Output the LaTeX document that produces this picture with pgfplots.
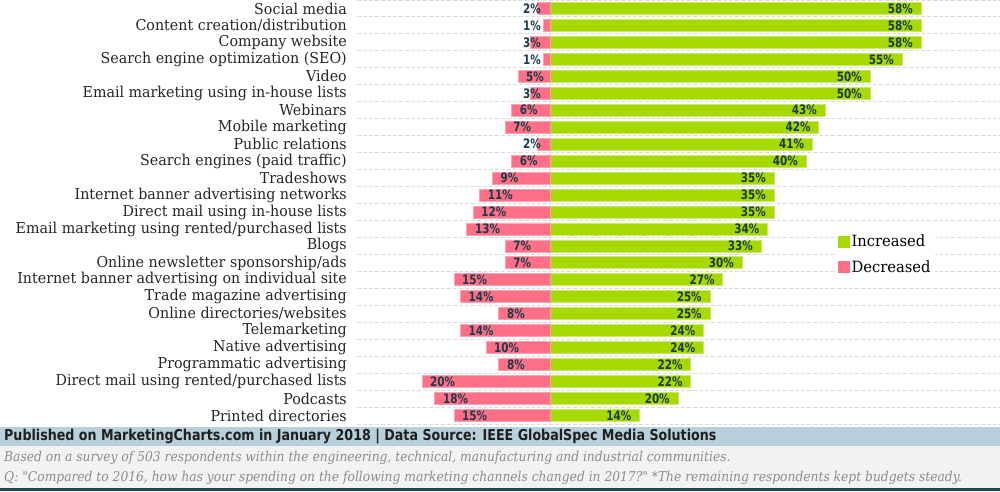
\documentclass[border=0pt]{standalone}
\usepackage{pgfplots}
\pgfplotsset{compat=1.18}
\usepackage{pgfplotstable}
\usepackage{fontspec}
\setmainfont{DejaVu Serif}
\newfontfamily\labfont[FakeStretch=0.95]{DejaVu Serif}
\newfontfamily\numfont[FakeStretch=0.8]{DejaVu Sans}
\newfontfamily\footfont[FakeStretch=0.845]{DejaVu Sans}
\newfontfamily\notefont[FakeStretch=0.91]{DejaVu Serif}

\definecolor{incgreen}{HTML}{A6D900}
\definecolor{incedge}{HTML}{C9EC66}
\definecolor{decpink}{HTML}{FF6F86}
\definecolor{decedge}{HTML}{FFA3B2}
\definecolor{labnavy}{HTML}{1B3A4B}
\definecolor{bandc}{HTML}{B8CFDC}
\definecolor{notec}{HTML}{F2F2F2}
\definecolor{notetext}{HTML}{8C8C8C}
\definecolor{bottomline}{HTML}{1E4652}
\definecolor{gridc}{HTML}{DCDCDC}

% idx increased decreased
\pgfplotstableread{
idx inc dec
0  58 2
1  58 1
2  58 3
3  55 1
4  50 5
5  50 3
6  43 6
7  42 7
8  41 2
9  40 6
10 35 9
11 35 11
12 35 12
13 34 13
14 33 7
15 30 7
16 27 15
17 25 14
18 25 8
19 24 14
20 24 10
21 22 8
22 22 20
23 20 18
24 14 15
}\maintab

% decreased labels placed at the bar's left end
\pgfplotstableread{
idx dec
4  5
6  6
7  7
9  6
10 9
11 11
12 12
13 13
14 7
15 7
16 15
17 14
18 8
19 14
20 10
21 8
22 20
23 18
24 15
}\bigdec

% small decreased labels placed next to the zero line
\pgfplotstableread{
idx dec
0 2
1 1
2 3
3 1
5 3
8 2
}\smalldec

\begin{document}
\begin{tikzpicture}[x=1pt,y=1pt]
\begin{axis}[
  at={(357pt,0pt)}, anchor=north west,
  scale only axis, width=643pt, height=424pt,
  xmin=-30.16, xmax=70.3,
  ymin=-0.5, ymax=24.5, y dir=reverse,
  axis line style={draw=none},
  xtick=\empty,
  extra x ticks={0}, extra x tick labels={},
  extra x tick style={grid=major, major grid style={gray!22, line width=1pt}},
  ytick={0,...,24},
  yticklabels={Social media,Content creation/distribution,Company website,Search engine optimization (SEO),Video,Email marketing using in-house lists,Webinars,Mobile marketing,Public relations,Search engines (paid traffic),Tradeshows,Internet banner advertising networks,Direct mail using in-house lists,Email marketing using rented/purchased lists,Blogs,Online newsletter sponsorship/ads,Internet banner advertising on individual site,Trade magazine advertising,Online directories/websites,Telemarketing,Native advertising,Programmatic advertising,Direct mail using rented/purchased lists,Podcasts,Printed directories},
  minor ytick={-0.5,0.5,...,24.5},
  yminorgrids,
  minor grid style={gridc, dash pattern=on 4pt off 2pt, line width=1pt},
  major tick length=0pt, minor tick length=0pt,
  yticklabel style={font=\labfont\fontsize{15}{17}\selectfont, text=black!85, inner sep=0pt, xshift=-10pt},
  legend style={at={(axis cs:44.6,14.5)}, anchor=west, draw=none, fill=white,
    font=\labfont\fontsize{15.5}{17}\selectfont, row sep=8pt, inner xsep=2pt, inner ysep=6pt},
  legend cell align=left,
  /pgf/number format/assume math mode=true,
  clip=false,
]
\addplot[xbar, bar width=12pt, bar shift=0pt, fill=incgreen, draw=incedge, line width=0.8pt,
  nodes near coords={\pgfmathprintnumber{\pgfplotspointmeta}\%},
  point meta=x,
  nodes near coords style={anchor=east, xshift=-8pt, font=\numfont\bfseries\fontsize{13}{14}\selectfont, text=labnavy, inner sep=0pt},
  legend image code/.code={\fill[incgreen] (0pt,-5.5pt) rectangle (11pt,5.5pt);}]
  table[x=inc, y=idx] \maintab;
\addlegendentry{Increased}
\addplot[xbar, bar width=12pt, bar shift=0pt, fill=decpink, draw=decedge, line width=0.8pt,
  legend image code/.code={\fill[decpink] (0pt,-5.5pt) rectangle (11pt,5.5pt);}]
  table[x expr=-\thisrow{dec}, y=idx] \maintab;
\addlegendentry{Decreased}
\addplot[forget plot, only marks, mark=*, mark size=0pt, mark options={draw=none, fill=none},
  point meta=explicit,
  nodes near coords={\pgfmathprintnumber{\pgfplotspointmeta}\%},
  nodes near coords style={anchor=west, xshift=8pt, font=\numfont\bfseries\fontsize{13}{14}\selectfont, text=labnavy, inner sep=0pt}]
  table[x expr=-\thisrow{dec}, y=idx, meta=dec] \bigdec;
\addplot[forget plot, only marks, mark=*, mark size=0pt, mark options={draw=none, fill=none},
  point meta=explicit,
  nodes near coords={\pgfmathprintnumber{\pgfplotspointmeta}\%},
  nodes near coords style={anchor=east, xshift=-9pt, font=\numfont\bfseries\fontsize{13}{14}\selectfont, text=labnavy, inner sep=0pt}]
  table[x expr=0*\thisrow{dec}, y=idx, meta=dec] \smalldec;
\end{axis}
\fill[bandc] (0,-427) rectangle (1000,-446);
\node[anchor=west, inner sep=0pt, font=\footfont\bfseries\fontsize{15}{17}\selectfont, text=black!88] at (4,-436.5)
  {Published on MarketingCharts.com in January 2018 | Data Source: IEEE GlobalSpec Media Solutions};
\fill[notec] (0,-446) rectangle (1000,-488);
\node[anchor=west, inner sep=0pt, font=\notefont\itshape\fontsize{13.5}{15}\selectfont, text=notetext] at (4,-458)
  {Based on a survey of 503 respondents within the engineering, technical, manufacturing and industrial communities.};
\node[anchor=west, inner sep=0pt, font=\notefont\itshape\fontsize{13.5}{15}\selectfont, text=notetext] at (4,-477.5)
  {Q: "Compared to 2016, how has your spending on the following marketing channels changed in 2017?" *The remaining respondents kept budgets steady.};
\fill[bottomline] (0,-488) rectangle (1000,-491);
\pgfresetboundingbox
\path[use as bounding box] (0,0) rectangle (1000,-491);
\end{tikzpicture}
\end{document}
